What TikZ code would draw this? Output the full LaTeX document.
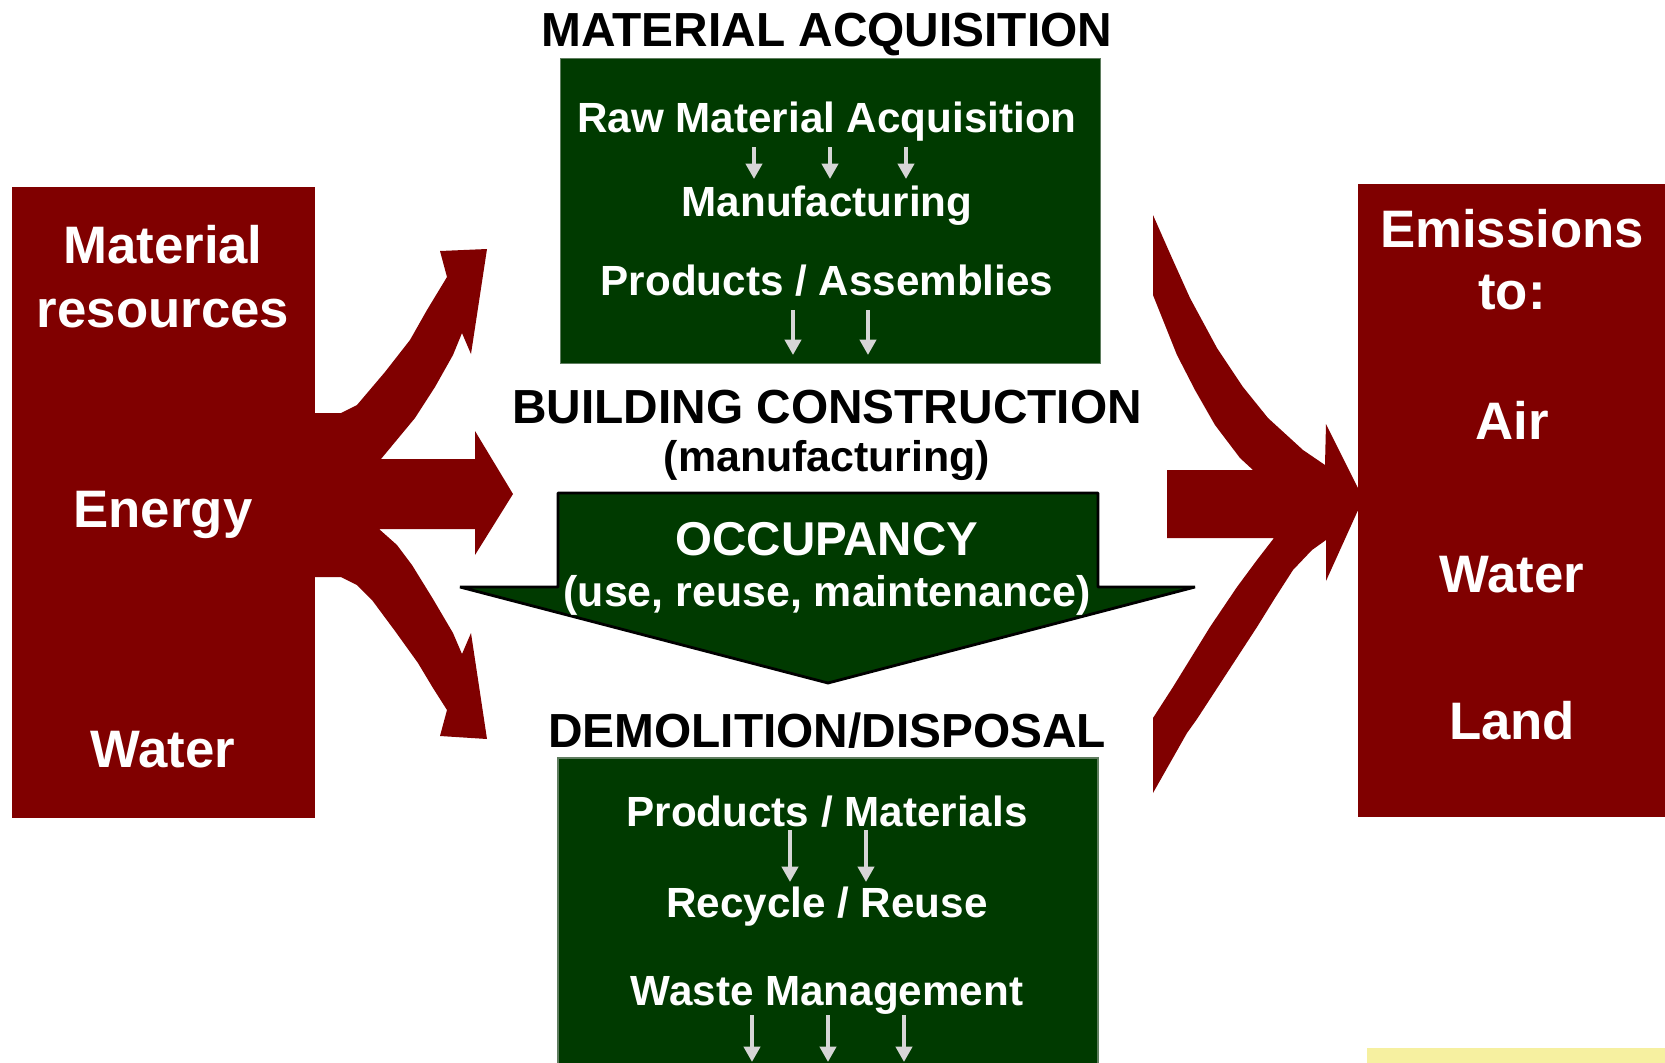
\documentclass[tikz,border=0pt]{standalone}
\usepackage{fontspec}
\setmainfont{Liberation Sans}
\usetikzlibrary{positioning}
\usetikzlibrary{arrows.meta}

\definecolor{maroon}{RGB}{128,0,0}
\definecolor{leaf}{RGB}{0,58,0}
\definecolor{leafedge}{RGB}{95,125,95}
\definecolor{pale}{RGB}{214,214,214}
\definecolor{logo}{RGB}{246,240,160}

\begin{document}
\begin{tikzpicture}
    [x=0.01cm,y=-0.01cm,
     every node/.style={inner sep=0pt,font=\bfseries}]

    \tikzstyle{redtext} = [text=white,anchor=base,font=\bfseries\fontsize{15pt}{18pt}\selectfont]
    \tikzstyle{boxtext} = [text=white,anchor=base,font=\bfseries\fontsize{12pt}{14pt}\selectfont]
    \tikzstyle{stage}   = [text=black,anchor=base,font=\bfseries\fontsize{13.6pt}{16pt}\selectfont]
    \tikzstyle{redbox}  = [fill=maroon,draw=none]
    \tikzstyle{greenbox}= [fill=leaf,draw=leafedge,line width=0.4pt]
    \tikzstyle{flow}    = [-{Triangle[width=4.6pt,length=4.4pt]},line width=1.3pt,draw=pale]

    \useasboundingbox (0,0) rectangle (1665,1063);

    % side boxes
    \node [redbox,minimum width=3.03cm,minimum height=6.31cm] (inputs) at (163.5,502.5) {};
    \node [redbox,minimum width=3.07cm,minimum height=6.33cm] (outputs) at (1511.5,500.5) {};

    % fork going in
    \fill [maroon] (314,413) -- (341,413) -- (357,405) -- (385,372) -- (410,340)
          -- (427,310) -- (447,277) -- (440,251) -- (487,249) -- (471,354)
          -- (462,333) -- (453,355) -- (435,387) -- (415,418) -- (381,459)
          -- (475,459) -- (475,431) -- (513,494) -- (475,555) -- (475,529)
          -- (379,529) -- (397,545) -- (412,565) -- (433,599) -- (453,633)
          -- (462,654) -- (471,633) -- (487,739) -- (440,736) -- (447,710)
          -- (433,688) -- (418,663) -- (395,631) -- (372,600) -- (357,585)
          -- (341,577) -- (314,577) -- cycle;

    % fork going out
    \fill [maroon] (1153,215) -- (1172,258) -- (1190,298) -- (1217,348) -- (1243,387)
          -- (1268,418) -- (1303,450) -- (1325,465) -- (1326,424) -- (1359,490)
          -- (1359,508) -- (1326,581) -- (1326,540) -- (1312,550) -- (1293,570)
          -- (1275,598) -- (1257,627) -- (1227,673) -- (1197,719) -- (1187,733)
          -- (1153,793) -- (1153,718) -- (1173,687) -- (1210,627) -- (1237,587)
          -- (1257,560) -- (1274,538) -- (1167,538) -- (1167,470) -- (1253,470)
          -- (1240,458) -- (1215,425) -- (1195,390) -- (1177,355) -- (1153,295) -- cycle;

    % stages
    \node [greenbox,minimum width=5.40cm,minimum height=3.05cm] (acqbox) at (830.5,210.8) {};
    \fill [leaf] (558,758) rectangle (1098,1063);
    \draw [leafedge,line width=0.4pt] (558,1063) |- (1098,758) -- (1098,1063);
    \filldraw [fill=leaf,draw=black,line width=0.8pt,line join=bevel]
          (558,493) -- (1098,493) -- (1098,587) -- (1195,587)
          -- (828,683) -- (460,587) -- (558,587) -- cycle;

    \fill [logo] (1367,1048) rectangle (1665,1063);

    \node [redtext] (mat) at (163,263) {Material};
    \node [redtext,below=0.64cm of mat.base,anchor=base] (res) {resources};
    \node [redtext] (energy) at (163,527) {Energy};
    \node [redtext] (inwater) at (163,767) {Water};

    \node [redtext] (emis) at (1512,247) {Emissions};
    \node [redtext,below=0.62cm of emis.base,anchor=base] (to) {to:};
    \node [redtext] (air) at (1512,439) {Air};
    \node [redtext] (outwater) at (1512,592) {Water};
    \node [redtext] (land) at (1512,739) {Land};

    \node [stage] (acq) at (827,46) {MATERIAL ACQUISITION};
    \node [boxtext] (raw) at (827,132) {Raw Material Acquisition};
    \node [boxtext] (manu) at (827,216) {Manufacturing};
    \node [boxtext] (prod) at (827,295) {Products / Assemblies};

    \node [stage] (build) at (827,423) {BUILDING CONSTRUCTION};
    \node [stage,font=\bfseries\fontsize{12.2pt}{14pt}\selectfont,below=0.48cm of build.base,anchor=base] (bmanu) {(manufacturing)};

    \node [stage,text=white,font=\bfseries\fontsize{13.5pt}{16pt}\selectfont] (occ) at (827,555) {OCCUPANCY};
    \node [boxtext,font=\bfseries\fontsize{12.2pt}{14pt}\selectfont,below=0.51cm of occ.base,anchor=base] (use) {(use, reuse, maintenance)};

    \node [stage] (demo) at (827,747) {DEMOLITION/DISPOSAL};
    \node [boxtext] (pm) at (827,826) {Products / Materials};
    \node [boxtext] (rr) at (827,917) {Recycle / Reuse};
    \node [boxtext] (waste) at (827,1005) {Waste Management};

    % small arrows
    \foreach \x [count=\i] in {754,830,906} {
        \coordinate (a\i) at (\x,147);
        \coordinate (b\i) at (\x,179);
        \draw [flow] (a\i) -- (b\i);
    }
    \foreach \x [count=\i] in {793,868} {
        \coordinate (c\i) at (\x,310);
        \coordinate (d\i) at (\x,355);
        \draw [flow] (c\i) -- (d\i);
    }
    \foreach \x [count=\i] in {790,866} {
        \coordinate (e\i) at (\x,830);
        \coordinate (f\i) at (\x,882);
        \draw [flow] (e\i) -- (f\i);
    }
    \foreach \x [count=\i] in {752,828,904} {
        \coordinate (g\i) at (\x,1015);
        \coordinate (h\i) at (\x,1062);
        \draw [flow] (g\i) -- (h\i);
    }
\end{tikzpicture}
\end{document}
